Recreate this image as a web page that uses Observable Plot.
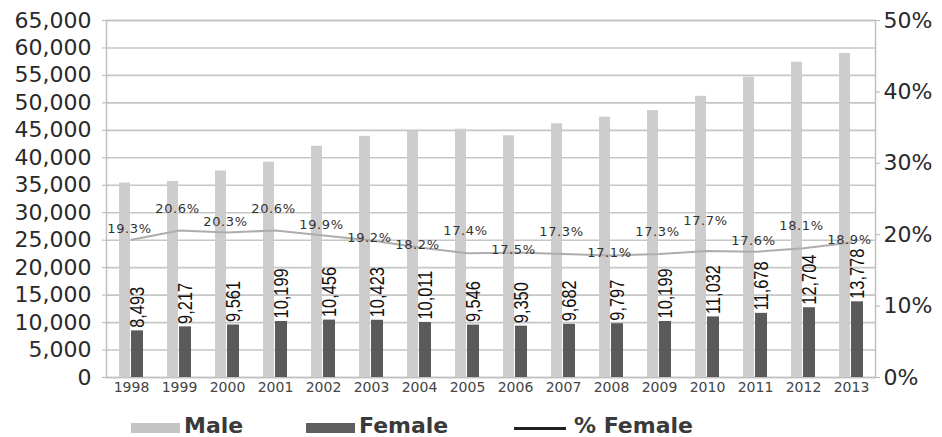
<!DOCTYPE html>
<html>
<head>
<meta charset="utf-8">
<script src="https://cdn.jsdelivr.net/npm/d3@7"></script>
<script src="https://cdn.jsdelivr.net/npm/@observablehq/plot@0.6"></script>
<style>
  body { margin: 0; background: #fff; }
  #wrap { position: relative; width: 942px; height: 437px; font-family: "DejaVu Sans", sans-serif; }
  #chart svg { display: block; }
  .sw { position: absolute; }
  .lt { position: absolute; font-size: 22px; font-weight: bold; line-height: 20px; color: #3a3a3a; white-space: nowrap; }
</style>
</head>
<body>
<div id="wrap">
  <div id="chart"></div>
  <div id="legend"></div>
</div>
<script>
// ---- data ----
const years = [1998, 1999, 2000, 2001, 2002, 2003, 2004, 2005, 2006, 2007, 2008, 2009, 2010, 2011, 2012, 2013];
const male = [35400, 35700, 37600, 39200, 42100, 43900, 44800, 45200, 44000, 46200, 47400, 48600, 51200, 54700, 57400, 59000];
const female = [8493, 9217, 9561, 10199, 10456, 10423, 10011, 9546, 9350, 9682, 9797, 10199, 11032, 11678, 12704, 13778];
const pctFemale = [19.3, 20.6, 20.3, 20.6, 19.9, 19.2, 18.2, 17.4, 17.5, 17.3, 17.1, 17.3, 17.7, 17.6, 18.1, 18.9];
const leftTicks = d3.range(0, 65001, 5000);
const rightTicks = [0, 10, 20, 30, 40, 50];
const seriesNames = ["Male", "Female", "% Female"];

// label placement groups for the % labels (layout only)
const highLabelYears = [1999, 2001, 2005, 2007, 2009, 2012];
const topLabelYears = [2010];
const midLabelYears = [1998, 2000, 2002, 2011];
const lowLabelYears = [2003, 2004, 2006, 2008, 2013];

const data = years.map((year, i) => ({ year, male: male[i], female: female[i], pct: pctFemale[i] }));

const yMax = 65000, pMax = 50;
const pToY = p => p / pMax * yMax;
const fmt = d3.format(",");
const pctFmt = p => p.toFixed(1) + "%";

const pctText = (yrs, dy) => Plot.text(data.filter(d => yrs.includes(d.year)), {
  x: "year", y: d => pToY(d.pct), text: d => pctFmt(d.pct),
  dy, dx: -2, fontSize: 13, fill: "#333", fontFamily: "DejaVu Sans"
});

const chart = Plot.plot({
  width: 942,
  height: 400,
  marginLeft: 106,
  marginRight: 67,
  marginTop: 20,
  marginBottom: 23,
  style: { fontFamily: "DejaVu Sans", background: "#fff" },
  x: { type: "band", domain: years, padding: 0, label: null },
  y: { domain: [0, yMax], label: null },
  marks: [
    Plot.ruleY(leftTicks, { stroke: "#c6c6c6", strokeWidth: 1.6 }),
    Plot.frame({ stroke: "#c0c0c0", strokeWidth: 1.5 }),
    Plot.barY(data, { x: "year", y: "male", fill: "#cdcdcd", insetLeft: 12, insetRight: 25 }),
    Plot.barY(data, { x: "year", y: "female", fill: "#5a5a5a", insetLeft: 24, insetRight: 12 }),
    Plot.line(data, { x: "year", y: d => pToY(d.pct), stroke: "#adadad", strokeWidth: 2 }),
    pctText(highLabelYears, -22),
    pctText(topLabelYears, -30),
    pctText(midLabelYears, -11),
    pctText(lowLabelYears, -3),
    Plot.text(data, {
      x: "year", y: "female", text: d => fmt(d.female), rotate: -90, textAnchor: "start",
      dx: 6, dy: -3, fontSize: 20, fill: "#111",
      fontFamily: "'Liberation Sans', Arial, sans-serif"
    }),
    Plot.axisY({
      anchor: "left", ticks: leftTicks, tickFormat: fmt, tickSize: 4, tickPadding: 11,
      fontSize: 22, stroke: "#b5b5b5", fill: "#2a2a2a", label: null
    }),
    Plot.axisY({
      anchor: "right", ticks: rightTicks.map(pToY), tickFormat: d => Math.round(d / yMax * pMax) + "%",
      tickSize: 4, tickPadding: 4, fontSize: 22, stroke: "#b5b5b5", fill: "#2a2a2a", label: null
    }),
    Plot.axisX({
      tickSize: 0, tickPadding: 5, fontSize: 14, fill: "#444", tickFormat: d => String(d), label: null
    })
  ]
});
document.getElementById("chart").appendChild(chart);

// narrow (condensed) look for the rotated female labels
const femaleLabelSet = new Set(female.map(fmt));
const pctLabelSet = new Set(pctFemale.map(pctFmt));
d3.select(chart).selectAll("text").each(function () {
  const s = this.textContent;
  if (femaleLabelSet.has(s)) {
    const t = this.getAttribute("transform");
    if (t && t.includes("rotate")) this.setAttribute("transform", t + " scale(0.82,1)");
    else if (this.parentNode.getAttribute("transform")) {
      const pt = this.parentNode.getAttribute("transform");
      if (pt.includes("rotate")) this.setAttribute("transform", "scale(0.82,1)");
    }
  } else if (pctLabelSet.has(s)) {
    this.style.letterSpacing = "0.6px";
  }
});

// ---- legend ----
const legend = document.getElementById("legend");
const legendItems = [
  { name: seriesNames[0], kind: "bar", color: "#c4c4c4", sx: 131, tx: 184 },
  { name: seriesNames[1], kind: "bar", color: "#5e5e5e", sx: 306, tx: 359 },
  { name: seriesNames[2], kind: "line", color: "#222", sx: 514, tx: 574 }
];
legendItems.forEach(it => {
  const sw = document.createElement("div");
  sw.className = "sw";
  sw.style.left = it.sx + "px";
  sw.style.width = (it.kind === "bar" ? 49 : 52) + "px";
  sw.style.top = (it.kind === "bar" ? 423 : 427) + "px";
  sw.style.height = (it.kind === "bar" ? 10 : 3) + "px";
  sw.style.background = it.color;
  legend.appendChild(sw);
  const t = document.createElement("div");
  t.className = "lt";
  t.style.left = it.tx + "px";
  t.style.top = "416px";
  t.textContent = it.name;
  legend.appendChild(t);
});
</script>
</body>
</html>
